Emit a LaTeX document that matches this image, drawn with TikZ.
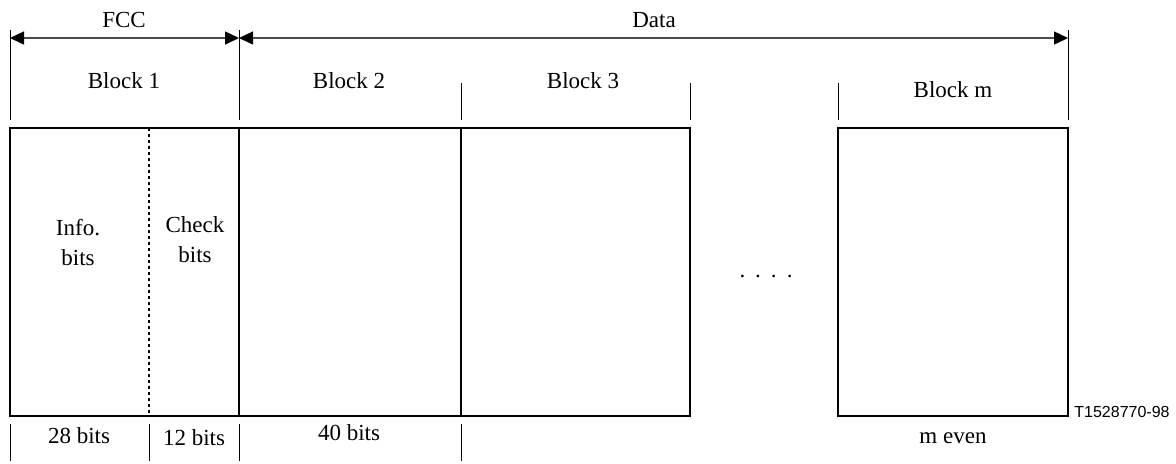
\documentclass[tikz,border=0pt]{standalone}
\usepackage{fontspec}
\setmainfont{Liberation Serif}
\setsansfont{Liberation Sans}
\usetikzlibrary{arrows.meta}

\begin{document}
\begin{tikzpicture}[x=0.5pt,y=0.5pt,yscale=-1,xscale=1,
    lbl/.style={inner sep=0pt,anchor=base,font=\fontsize{11.5}{15}\selectfont},
    tick/.style={line width=0.5pt},
    frame/.style={line width=1pt},
    dim/.style={line width=0.7pt,draw=black!70,{Triangle[length=7pt,width=6.5pt,color=black]}-{Triangle[length=7pt,width=6.5pt,color=black]}}]
                \useasboundingbox (0,0) rectangle (1176,463);
                % dimension lines
                \coordinate (fccL) at (10,38);
                \coordinate (fccR) at (239,38);
                \coordinate (dataR) at (1068,38);
                \draw [dim] (fccL) -- (fccR);
                \draw [dim] (fccR) -- (dataR);
                % ticks
                \draw [tick] (10,30) -- (10,120) (239,30) -- (239,120) (1068,30) -- (1068,120) ;
                \draw [tick] (461,83) -- (461,120) (690,83) -- (690,120) (838,83) -- (838,120) ;
                \draw [tick] (10,424) -- (10,461) (149,424) -- (149,461) (239,424) -- (239,461) (461,424) -- (461,461) ;
                % blocks
                \draw [frame] (10,128) rectangle (690,416) ;
                \draw [frame] (838,128) rectangle (1068,416) ;
                \draw [frame] (239,128) -- (239,416) (461,128) -- (461,416) ;
                \draw [line width=1pt, dash pattern={on 1.5pt off 1.5pt}] (149,128) -- (149,416) ;
                % labels
                \node (fcc) [lbl] at (124,27) {FCC};
                \node (data) [lbl] at (654,27) {Data};
                \node (blk1) [lbl] at (124,88) {Block 1};
                \node (blk2) [lbl] at (349,88) {Block 2};
                \node (blk3) [lbl] at (583,88) {Block 3};
                \node (blkm) [lbl] at (953,97) {Block m};
                \node (info) [lbl] at (78,235) {Info.};
                \node (infob) [lbl] at (78,265) {bits};
                \node (chk) [lbl] at (195,232) {Check};
                \node (chkb) [lbl] at (195,262) {bits};
                \node (dots) [lbl] at (766,277) {.\hspace{5pt}.\hspace{5pt}.\hspace{5pt}.};
                \node (b28) [lbl] at (79,443) {28 bits};
                \node (b12) [lbl] at (194,445) {12 bits};
                \node (b40) [lbl] at (349,440) {40 bits};
                \node (meven) [lbl] at (953,443) {m even};
                \node (ref) [inner sep=0pt,anchor=base west,font=\sffamily\fontsize{8}{10}\selectfont] at (1074,417) {T1528770-98};
\end{tikzpicture}
\end{document}
